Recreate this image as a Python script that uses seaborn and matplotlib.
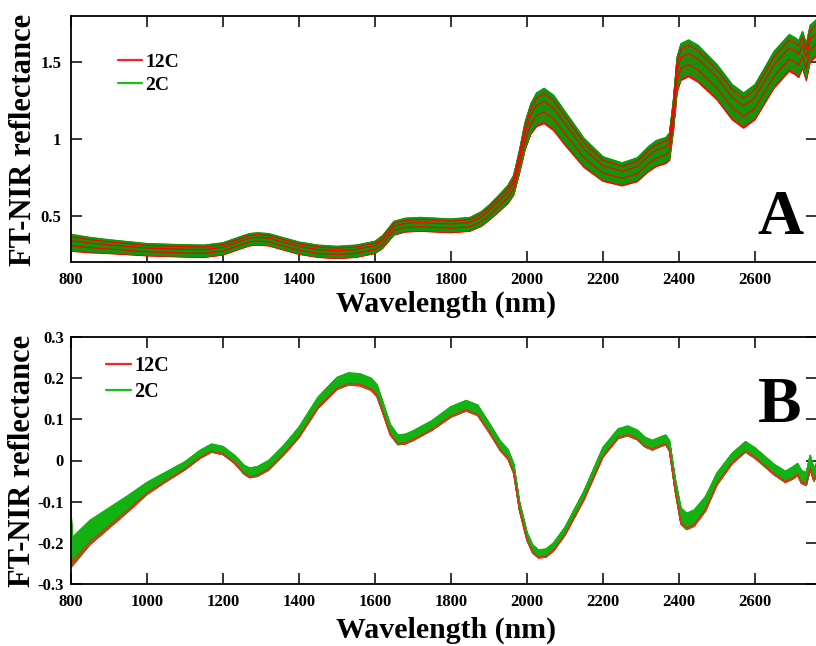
import numpy as np
import pandas as pd
import matplotlib
matplotlib.use("Agg")
import matplotlib.pyplot as plt
from matplotlib.lines import Line2D
import seaborn as sns

# ---------------- data ----------------
# Panel A: raw FT-NIR spectra, mean curve and half-width of the bundle
wl_A = [800, 850, 900, 1000, 1100, 1150, 1200, 1240, 1270, 1290, 1320, 1400, 1450,
        1500, 1550, 1600, 1620, 1650, 1680, 1720, 1800, 1850, 1880, 1900, 1930,
        1950, 1965, 1980, 1995, 2010, 2025, 2045, 2070, 2100, 2150, 2200, 2250,
        2290, 2320, 2340, 2365, 2375, 2385, 2395, 2405, 2425, 2450, 2500, 2540,
        2570, 2600, 2650, 2690, 2705, 2715, 2725, 2735, 2745, 2763]
mean_A = [0.325, 0.31, 0.30, 0.28, 0.272, 0.27, 0.285, 0.32, 0.345, 0.35, 0.345, 0.29, 0.27,
          0.262, 0.27, 0.295, 0.33, 0.42, 0.44, 0.445, 0.435, 0.445, 0.48, 0.52, 0.59,
          0.64, 0.70, 0.85, 1.02, 1.13, 1.19, 1.215, 1.17, 1.07, 0.91, 0.805, 0.77,
          0.80, 0.87, 0.905, 0.925, 0.95, 1.15, 1.42, 1.50, 1.525, 1.49, 1.37, 1.24,
          1.185, 1.24, 1.45, 1.56, 1.54, 1.52, 1.58, 1.50, 1.62, 1.66]
hw_A = [0.055, 0.05, 0.045, 0.04, 0.04, 0.04, 0.04, 0.04, 0.04, 0.04, 0.04, 0.04, 0.04,
        0.04, 0.04, 0.04, 0.042, 0.045, 0.045, 0.045, 0.045, 0.045, 0.048, 0.05, 0.055,
        0.06, 0.065, 0.075, 0.09, 0.1, 0.11, 0.115, 0.115, 0.11, 0.095, 0.08, 0.075,
        0.078, 0.082, 0.085, 0.085, 0.09, 0.1, 0.115, 0.12, 0.12, 0.12, 0.115, 0.115,
        0.115, 0.115, 0.12, 0.12, 0.12, 0.12, 0.12, 0.12, 0.12, 0.12]

# Panel B: pretreated spectra, mean curve and half-width of the bundle
wl_B = [800, 803, 850, 900, 950, 1000, 1050, 1100, 1140, 1170, 1200, 1230, 1255, 1270,
        1290, 1320, 1360, 1400, 1450, 1500, 1530, 1560, 1590, 1605, 1620, 1640, 1660,
        1680, 1700, 1750, 1800, 1840, 1870, 1900, 1930, 1950, 1965, 1980, 2000, 2015,
        2030, 2050, 2070, 2100, 2150, 2200, 2240, 2265, 2290, 2310, 2330, 2350, 2365,
        2375, 2390, 2405, 2420, 2440, 2470, 2500, 2540, 2575, 2600, 2650, 2680, 2700,
        2712, 2722, 2735, 2745, 2755, 2763]
mean_B = [-0.17, -0.222, -0.175, -0.14, -0.105, -0.068, -0.04, -0.013, 0.015, 0.03, 0.024,
          0.003, -0.022, -0.03, -0.027, -0.012, 0.025, 0.068, 0.14, 0.187, 0.198, 0.196,
          0.185, 0.17, 0.13, 0.075, 0.05, 0.052, 0.06, 0.085, 0.118, 0.133, 0.122, 0.08,
          0.035, 0.015, -0.02, -0.11, -0.185, -0.215, -0.227, -0.225, -0.21, -0.172,
          -0.085, 0.02, 0.065, 0.072, 0.062, 0.045, 0.037, 0.045, 0.05, 0.035, -0.06,
          -0.135, -0.148, -0.14, -0.105, -0.045, 0.005, 0.033, 0.018, -0.022, -0.04,
          -0.03, -0.022, -0.04, -0.045, -0.005, -0.035, -0.02]
hw_B = [0.06, 0.035, 0.03, 0.025, 0.02, 0.015, 0.012, 0.01, 0.01, 0.01, 0.01, 0.01, 0.011,
        0.012, 0.012, 0.012, 0.012, 0.013, 0.014, 0.015, 0.015, 0.015, 0.015, 0.015, 0.014,
        0.013, 0.012, 0.012, 0.012, 0.012, 0.013, 0.013, 0.013, 0.012, 0.012, 0.012,
        0.012, 0.011, 0.01, 0.01, 0.01, 0.01, 0.01, 0.01, 0.011, 0.012, 0.012, 0.012,
        0.012, 0.012, 0.012, 0.012, 0.012, 0.013, 0.016, 0.02, 0.02, 0.02, 0.018, 0.015,
        0.013, 0.013, 0.013, 0.013, 0.014, 0.015, 0.015, 0.016, 0.016, 0.018, 0.016, 0.016]

# relative position of each sample inside the bundle (-1 = lower edge, 1 = upper edge)
k_12C = [-1.0, -0.96, -0.9, -0.82, -0.74, -0.66, -0.58, -0.5, -0.42, -0.34, -0.27,
         -0.2, -0.12, -0.05, 0.03, 0.1, 0.18, 0.26, 0.34, 0.42, 0.5, 0.6, 0.7, 0.8, 0.9]
k_2C = [-0.86, -0.8, -0.72, -0.64, -0.56, -0.49, -0.42, -0.35, -0.28, -0.21, -0.15,
        -0.08, -0.01, 0.06, 0.13, 0.2, 0.27, 0.34, 0.41, 0.48, 0.55, 0.62, 0.69, 0.76,
        0.83, 0.9, 0.96, 1.0]
# 12C spectra that end up drawn above the 2C spectra (index into k_12C)
late_12C_A = [9, 17, 22]
late_12C_B = [4]

groups = ["12C", "2C"]
colors_A = {"12C": "#ff0000", "2C": "#0a9a0a"}
colors_B = {"12C": "#ff1a1a", "2C": "#12b312"}
legend_colors = {"12C": "#ff2020", "2C": "#18c018"}

xticks = [800, 1000, 1200, 1400, 1600, 1800, 2000, 2200, 2400, 2600]
yticks_A = [0.5, 1, 1.5]
yticklabels_A = ["0.5", "1", "1.5"]
yticks_B = [-0.3, -0.2, -0.1, 0, 0.1, 0.2, 0.3]
yticklabels_B = ["-0.3", "-0.2", "-0.1", "0", "0.1", "0.2", "0.3"]


def build(wl, mean, hw, late):
    rows = []
    sid = 0
    seq = ([("12C", i) for i in range(len(k_12C)) if i not in late]
           + [("2C", i) for i in range(len(k_2C))]
           + [("12C", i) for i in late])
    for g, i in seq:
        ks = k_12C if g == "12C" else k_2C
        vals = np.array(mean) + ks[i] * np.array(hw)
        rows.append(pd.DataFrame({"wl": wl, "val": vals, "sample": sid, "group": g}))
        sid += 1
    return pd.concat(rows, ignore_index=True)


# ---------------- style ----------------
sns.set_style("ticks")
plt.rcParams["font.family"] = ["Liberation Serif", "DejaVu Serif"]
plt.rcParams["font.weight"] = "bold"
plt.rcParams["axes.labelweight"] = "bold"
for key in ("text.color", "axes.labelcolor", "xtick.color", "ytick.color", "axes.edgecolor"):
    plt.rcParams[key] = "black"

W, H = 816, 646
fig = plt.figure(figsize=(W / 100, H / 100), dpi=100)
ax1 = fig.add_axes([71 / W, (H - 262) / H, 746 / W, 246 / H])
ax2 = fig.add_axes([71 / W, (H - 584) / H, 746 / W, 247 / H])


def draw(ax, wl, mean, hw, late, colors, lw):
    df = build(wl, mean, hw, late)
    for sid, sub in df.groupby("sample", sort=True):
        g = sub["group"].iloc[0]
        sns.lineplot(data=sub, x="wl", y="val", color=colors[g], lw=lw,
                     estimator=None, sort=False, ax=ax, legend=False)


draw(ax1, wl_A, mean_A, hw_A, late_12C_A, colors_A, 0.9)
draw(ax2, wl_B, mean_B, hw_B, late_12C_B, colors_B, 0.9)

for ax in (ax1, ax2):
    ax.set_xlim(800, 2763)
    ax.set_xticks(xticks)
    ax.set_xticklabels([str(t) for t in xticks])
    ax.tick_params(direction="in", length=8, width=1.1, top=True, right=True,
                   labelsize=12, pad=7, colors="black")
    for s in ax.spines.values():
        s.set_linewidth(1.3)
        s.set_visible(True)
        s.set_color("black")
    ax.set_xlabel("")
    ax.set_ylabel("")

ax1.set_ylim(0.2, 1.8)
ax1.set_yticks(yticks_A)
ax1.set_yticklabels(yticklabels_A)
ax2.set_ylim(-0.3, 0.3)
ax2.set_yticks(yticks_B)
ax2.set_yticklabels(yticklabels_B)
ax2.tick_params(axis="y", pad=5)

# legends
for ax, anchor, fs, sp in ((ax1, (118, 53), 14, 0.3), (ax2, (106, 356), 14.5, 0.28)):
    handles = [Line2D([0], [0], color=legend_colors[g], lw=1.6) for g in groups]
    ax.legend(handles, groups, loc="upper left",
              bbox_to_anchor=(anchor[0] / W, 1 - anchor[1] / H),
              bbox_transform=fig.transFigure, frameon=False,
              handlelength=1.25, handletextpad=0.15, labelspacing=sp,
              borderpad=0, borderaxespad=0, prop={"weight": "bold", "size": fs})

# axis titles
for yb in (312, 638):
    fig.text(446 / W, 1 - yb / H, "Wavelength (nm)", ha="center", va="baseline",
             fontsize=21.5, fontweight="bold")
fig.text(24 / W, 1 - 140 / H, "FT-NIR reflectance", rotation=90, ha="center",
         va="center", fontsize=22, fontweight="bold")
fig.text(23 / W, 1 - 461 / H, "FT-NIR reflectance", rotation=90, ha="center",
         va="center", fontsize=22, fontweight="bold")

# panel letters
fig.text(780 / W, 1 - 234 / H, "A", ha="center", va="baseline", fontsize=46,
         fontweight="bold")
fig.text(780 / W, 1 - 422 / H, "B", ha="center", va="baseline", fontsize=47,
         fontweight="bold")

fig.savefig("out.png", dpi=100)
